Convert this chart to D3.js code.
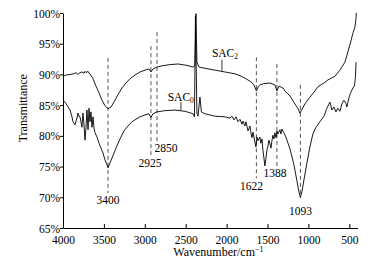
<!DOCTYPE html>
<html>
<head>
<meta charset="utf-8">
<script src="https://cdn.jsdelivr.net/npm/d3@7"></script>
<style>
  body { margin: 0; background: #fff; }
  svg text { font-family: "Times New Roman", "Liberation Serif", "DejaVu Serif", serif; }
  .axis path, .axis line { stroke: #000; }
  .axis text { font-size: 11.5px; fill: #000; }
</style>
</head>
<body>
<script>
// SAC2 spectrum, [wavenumber, transmittance %]
const sac2 = [
  [4000, 89.7], [3963, 89.9], [3914, 90.0], [3866, 90.1], [3840, 90.3], [3817, 90.0],
  [3792, 90.3], [3768, 90.4], [3743, 90.2], [3731, 90.5], [3719, 90.3], [3694, 90.5],
  [3682, 90.2], [3670, 90.1], [3633, 89.3], [3597, 88.1], [3560, 87.0], [3523, 85.8],
  [3487, 84.9], [3450, 84.4], [3413, 84.7], [3377, 85.5], [3328, 86.7], [3279, 87.8],
  [3230, 88.6], [3181, 89.3], [3120, 89.9], [3059, 90.4], [2998, 90.7], [2949, 90.9],
  [2925, 90.4], [2900, 90.9], [2851, 91.2], [2790, 91.4], [2693, 91.6], [2595, 91.7],
  [2497, 91.5], [2411, 91.2], [2387, 91.4], [2375, 99.9], [2363, 92.0], [2338, 91.2],
  [2265, 91.0], [2143, 90.7], [2020, 90.4], [1898, 90.1], [1837, 89.8], [1776, 89.4],
  [1739, 89.1], [1703, 88.8], [1666, 88.3], [1636, 87.3], [1610, 88.1], [1593, 88.3],
  [1544, 88.5], [1470, 88.6], [1410, 88.3], [1385, 87.3], [1360, 88.1], [1312, 87.8],
  [1287, 87.3], [1226, 86.5], [1165, 85.2], [1130, 84.5], [1104, 83.7], [1043, 85.2],
  [982, 86.3], [921, 87.3], [884, 88.0], [811, 88.6], [762, 89.1], [676, 89.7],
  [615, 90.7], [554, 92.0], [493, 94.8], [456, 96.7], [432, 97.7], [420, 98.9], [414, 100.0]
];

// SAC0 spectrum
const sac0 = [
  [4000, 85.8], [3976, 85.5], [3951, 85.0], [3914, 84.2], [3890, 83.1], [3878, 82.3],
  [3853, 81.8], [3841, 82.4], [3829, 82.9], [3817, 83.7], [3805, 83.2], [3792, 83.1],
  [3768, 81.4], [3756, 83.7], [3743, 81.8], [3731, 79.3], [3719, 81.4], [3707, 84.2],
  [3694, 81.0], [3682, 84.5], [3670, 82.3], [3658, 83.9], [3646, 81.4], [3633, 83.1],
  [3621, 81.3], [3609, 80.5], [3584, 79.8], [3560, 78.8], [3536, 78.0], [3511, 77.2],
  [3487, 76.1], [3462, 75.3], [3450, 74.8], [3426, 75.6], [3401, 76.4], [3352, 78.0],
  [3303, 79.5], [3255, 80.8], [3206, 81.6], [3157, 82.3], [3108, 82.7], [3059, 83.1],
  [2998, 83.4], [2949, 83.6], [2925, 83.0], [2900, 83.6], [2851, 83.9], [2754, 84.1],
  [2631, 84.2], [2509, 84.0], [2411, 83.6], [2393, 83.1], [2381, 99.5], [2363, 83.7],
  [2350, 83.2], [2326, 86.3], [2308, 83.9], [2265, 83.6], [2143, 83.2], [2020, 83.1],
  [1959, 82.9], [1935, 83.2], [1910, 82.6], [1886, 83.1], [1861, 82.3], [1837, 82.7],
  [1812, 81.9], [1800, 82.4], [1776, 81.6], [1764, 82.3], [1739, 80.8], [1715, 81.6],
  [1703, 80.5], [1690, 79.7], [1678, 80.6], [1654, 79.0], [1642, 78.2], [1629, 79.8],
  [1617, 79.2], [1593, 79.8], [1581, 78.8], [1568, 79.5], [1556, 77.7], [1544, 76.4],
  [1532, 75.1], [1519, 76.4], [1507, 77.7], [1495, 78.3], [1483, 79.3], [1470, 78.7],
  [1458, 78.0], [1446, 79.2], [1434, 80.1], [1422, 79.5], [1410, 80.5], [1397, 79.7],
  [1385, 80.8], [1373, 80.3], [1348, 81.0], [1336, 80.3], [1324, 81.1], [1300, 80.5],
  [1275, 79.8], [1226, 77.9], [1177, 75.3], [1141, 72.7], [1116, 70.9], [1098, 70.0],
  [1079, 70.9], [1055, 72.8], [1018, 75.6], [982, 78.2], [945, 80.3], [908, 81.4],
  [859, 82.3], [810, 83.2], [774, 84.5], [737, 85.5], [725, 84.9], [713, 84.2],
  [688, 84.7], [664, 83.9], [640, 84.5], [615, 84.0], [591, 85.2], [566, 85.8],
  [542, 85.3], [530, 84.7], [505, 86.2], [481, 87.1], [456, 87.8], [438, 88.1],
  [426, 89.4], [418, 92.0]
];

// marked peaks: label, where the dashed line sits, its top and bottom (T %)
const peakLabels = ["3400", "2925", "2850", "1622", "1388", "1093"];
const peakPos    = [3450, 2925, 2851, 1636, 1385, 1098];
const peakTop    = [92.7, 94.6, 96.9, 92.8, 91.7, 88.3];
const peakBottom = [70.7, 76.6, 78.5, 73.1, 74.9, 69.9];

const xTicks = [4000, 3500, 3000, 2500, 2000, 1500, 1000, 500];
const yTicks = [65, 70, 75, 80, 85, 90, 95, 100];

const width = 375, height = 263;
const margin = { top: 13, right: 17.5, bottom: 35, left: 63 };
const w = width - margin.left - margin.right;
const h = height - margin.top - margin.bottom;
const serif = '"Times New Roman", "Liberation Serif", serif';

const svg = d3.select("body").append("svg")
  .attr("width", width)
  .attr("height", height)
  .attr("font-family", serif);

const g = svg.append("g")
  .attr("transform", `translate(${margin.left},${margin.top})`);

const x = d3.scaleLinear().domain([4000, 400]).range([0, w]);
const y = d3.scaleLinear().domain([65, 100]).range([h, 0]);

// axes
g.append("g")
  .attr("class", "axis")
  .attr("transform", `translate(0,${h})`)
  .call(d3.axisBottom(x).tickValues(xTicks).tickFormat(d3.format("d"))
    .tickSizeInner(-4).tickSizeOuter(0).tickPadding(5))
  .attr("font-family", serif)
  .call(a => a.selectAll("text").attr("dy", "0.95em"));

g.append("g")
  .attr("class", "axis")
  .call(d3.axisLeft(y).tickValues(yTicks).tickSizeInner(3).tickSizeOuter(0).tickPadding(0)
    .tickFormat(d => d + "%"))
  .attr("font-family", serif)
  .call(a => a.selectAll("text").attr("dy", "0.35em"));

// dashed peak markers
g.append("g")
  .selectAll("line")
  .data(peakPos)
  .join("line")
    .attr("x1", d => x(d))
    .attr("x2", d => x(d))
    .attr("y1", (d, i) => y(peakTop[i]))
    .attr("y2", (d, i) => y(peakBottom[i]))
    .attr("stroke", "#555")
    .attr("stroke-width", 1)
    .attr("stroke-dasharray", "4,3");

// peak labels (small offsets so they sit like the original)
const labelDx = [0, -1, 9, -5, -2, 0];
const labelDy = [11, 10, 7, 12, 10, 17];
g.append("g")
  .selectAll("text")
  .data(peakLabels)
  .join("text")
    .attr("x", (d, i) => x(peakPos[i]) + labelDx[i])
    .attr("y", (d, i) => y(peakBottom[i]) + labelDy[i])
    .attr("text-anchor", "middle")
    .attr("font-size", "11.5px")
    .text(d => d);

// spectra
const line = d3.line()
  .x(d => x(d[0]))
  .y(d => y(d[1]));

g.append("path")
  .datum(sac2)
  .attr("fill", "none")
  .attr("stroke", "#000")
  .attr("stroke-width", 0.9)
  .attr("d", line);

g.append("path")
  .datum(sac0)
  .attr("fill", "none")
  .attr("stroke", "#000")
  .attr("stroke-width", 0.9)
  .attr("d", line);

// curve names with leader lines
const names = [
  { sub: "2", lx: 2057, ly1: 92.4, ly2: 90.6, tx: 2180, ty: 92.9 },
  { sub: "0", lx: 2558, ly1: 85.5, ly2: 84.2, tx: 2720, ty: 85.6 }
];
names.forEach(n => {
  g.append("line")
    .attr("x1", x(n.lx)).attr("x2", x(n.lx))
    .attr("y1", y(n.ly1)).attr("y2", y(n.ly2))
    .attr("stroke", "#000").attr("stroke-width", 0.8);
  const t = g.append("text")
    .attr("x", x(n.tx))
    .attr("y", y(n.ty))
    .attr("font-size", "11.5px");
  t.append("tspan").text("SAC");
  t.append("tspan").attr("font-size", "7.5px").attr("dy", "2").text(n.sub);
});

// axis titles
svg.append("text")
  .attr("transform", `translate(27,${margin.top + y(84.5)}) rotate(-90)`)
  .attr("text-anchor", "middle")
  .attr("font-size", "12px")
  .text("Transmittance");

const xt = svg.append("text")
  .attr("x", margin.left + x(2100))
  .attr("y", 256)
  .attr("text-anchor", "middle")
  .attr("font-size", "12px");
xt.append("tspan").text("Wavenumber/cm");
xt.append("tspan").attr("font-size", "8px").attr("dy", "-4").text("\u22121");
</script>
</body>
</html>
